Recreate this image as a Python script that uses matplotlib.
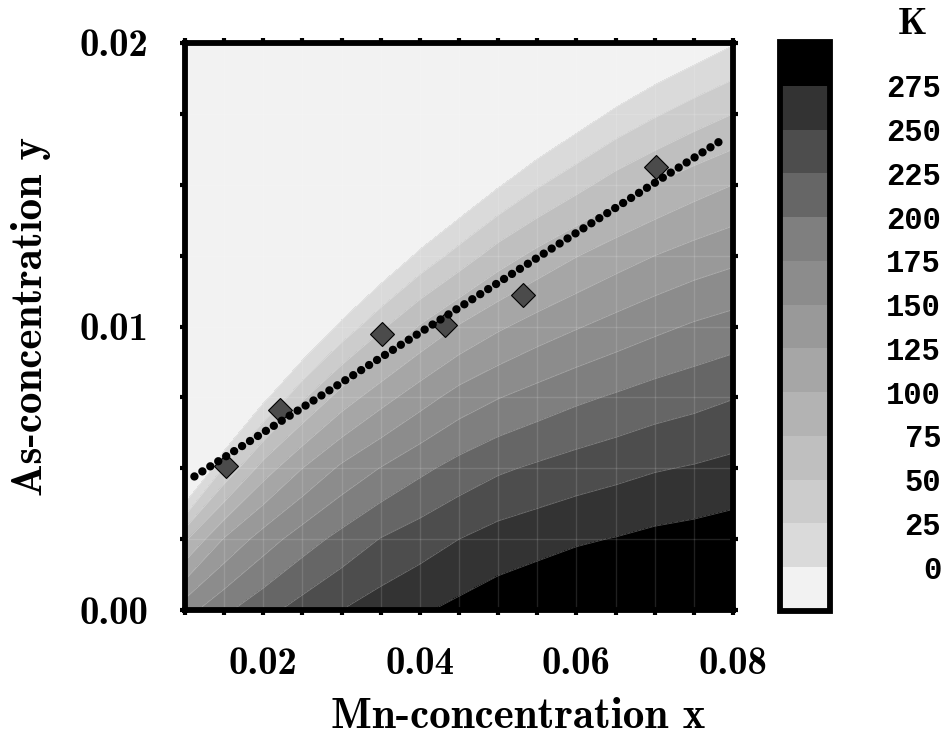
import numpy as np
import matplotlib
matplotlib.use("Agg")
import matplotlib.pyplot as plt
from matplotlib.colors import ListedColormap, BoundaryNorm
from matplotlib.ticker import MultipleLocator, FormatStrFormatter

plt.rcParams['axes.unicode_minus'] = False

# ---- data ----
mn_x = [0.010, 0.015, 0.020, 0.025, 0.030, 0.035, 0.040, 0.045,
        0.050, 0.055, 0.060, 0.065, 0.070, 0.075, 0.080]
as_y = [0.0, 0.0025, 0.005, 0.0075, 0.010, 0.0125, 0.015, 0.0175, 0.020]

# Tc (K) on the grid, one row per As concentration
tc_y000 = [165, 195, 217, 235, 250, 262, 272, 281, 289, 295, 300, 304, 308, 312, 316]
tc_y025 = [71, 127, 162, 188, 208, 226, 238, 250, 260, 266, 272, 276, 281, 284, 288]
tc_y050 = [-68, 28, 86, 125, 155, 176, 194, 209, 221, 229, 236, 242, 248, 252, 257]
tc_y075 = [-150, -86, -8, 46, 86, 115, 139, 160, 174, 185, 195, 203, 211, 217, 224]
tc_y100 = [-150, -150, -104, -42, 7, 45, 77, 102, 121, 136, 148, 159, 169, 178, 185]
tc_y125 = [-150, -150, -150, -129, -73, -30, 6, 35, 62, 82, 99, 113, 125, 135, 143]
tc_y150 = [-150, -150, -150, -150, -150, -104, -64, -32, -3, 22, 42, 61, 76, 89, 100]
tc_y175 = [-150, -150, -150, -150, -150, -150, -150, -99, -65, -39, -16, 5, 22, 37, 50]
tc_y200 = [-150, -150, -150, -150, -150, -150, -150, -150, -129, -99, -74, -51, -32, -17, -2]

levels = [0, 25, 50, 75, 100, 125, 150, 175, 200, 225, 250, 275]
band_colors = ['#f2f2f2', '#dadada', '#cccccc', '#bfbfbf', '#b3b3b3', '#a6a6a6',
               '#999999', '#8c8c8c', '#7f7f7f', '#666666', '#4d4d4d', '#333333', '#000000']

sample_x = [0.01518, 0.02211, 0.03518, 0.04320, 0.05315, 0.07020]
sample_y = [0.00508, 0.00705, 0.00972, 0.01005, 0.01112, 0.01563]

fit_x = [0.0112, 0.0791]
fit_y = [0.00471, 0.01667]

# ---- figure ----
W, H = 951, 745
fig = plt.figure(figsize=(W / 100, H / 100), dpi=100)
ax = fig.add_axes([185 / W, (H - 610) / H, 548 / W, 567 / H])

X, Y = np.meshgrid(mn_x, as_y)
T = np.array([tc_y000, tc_y025, tc_y050, tc_y075, tc_y100, tc_y125,
              tc_y150, tc_y175, tc_y200], dtype=float)

cmap = ListedColormap(band_colors[1:-1])
cmap.set_under(band_colors[0])
cmap.set_over(band_colors[-1])
norm = BoundaryNorm(levels, cmap.N)

cf = ax.contourf(X, Y, T, levels=levels, cmap=cmap, norm=norm, extend='both', zorder=1)
ax.contour(X, Y, T, levels=levels, colors='white', linewidths=0.6, alpha=0.3, zorder=1.2)

ax.plot(sample_x, sample_y, 'D', ms=12.5, mfc='#4b4b4b', mec='black', mew=0.8, zorder=4)
ax.plot(fit_x, fit_y, color='black', lw=6, linestyle=(0, (0.01, 1.12)),
        dash_capstyle='round', zorder=5)

ax.set_xlim(0.01, 0.08)
ax.set_ylim(0.0, 0.02)
ax.set_xticks([0.02, 0.04, 0.06, 0.08])
ax.set_yticks([0.0, 0.01, 0.02])
ax.xaxis.set_minor_locator(MultipleLocator(0.005))
ax.yaxis.set_minor_locator(MultipleLocator(0.0025))
ax.xaxis.set_major_formatter(FormatStrFormatter('%.2f'))
ax.yaxis.set_major_formatter(FormatStrFormatter('%.2f'))
ax.grid(which='both', color='white', alpha=0.13, lw=1.0)

ax.tick_params(which='both', direction='out', length=3.5, width=3, top=True, right=True,
               labelsize=28, pad=23, labelfontfamily='cmb10', colors='black')
for s in ax.spines.values():
    s.set_linewidth(4.2)

ax.set_xlabel('Mn-concentration x', fontfamily='cmb10', fontsize=31)
ax.xaxis.set_label_coords((518 - 185) / 548, (610 - 718) / 567)
ax.xaxis.label.set_va('center')
ax.set_ylabel('As-concentration y', fontfamily='cmb10', fontsize=31)
ax.yaxis.set_label_coords((31 - 185) / 548, (610 - 316) / 567)
ax.yaxis.label.set_va('center')

# ---- colorbar ----
cax = fig.add_axes([780 / W, (H - 611) / H, 50 / W, 569 / H])
cb = fig.colorbar(cf, cax=cax, extend='both', extendrect=True, extendfrac='auto')
cb.set_ticks(levels, labels=[str(v) for v in levels])
cb.outline.set_linewidth(4.2)
cax.tick_params(length=0, pad=80, labelsize=22)
for t in cax.get_yticklabels():
    t.set_fontfamily('Liberation Mono')
    t.set_fontweight('bold')
    t.set_ha('right')

fig.text(912 / W, 1 - 25 / H, 'K', fontfamily='cmb10', fontsize=27, ha='center', va='center')

fig.savefig('out.png', dpi=100)
